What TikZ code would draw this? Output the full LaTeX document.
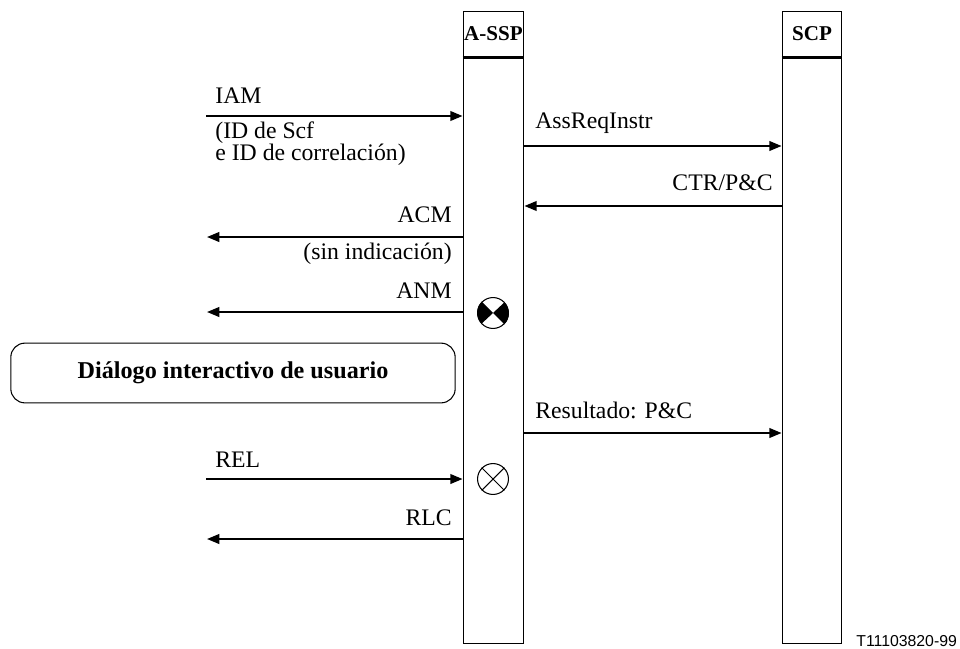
\documentclass[tikz,border=0pt]{standalone}
\usepackage{fontspec}
\setmainfont{Liberation Serif}
\newfontfamily\figsans{Liberation Sans}
\usetikzlibrary{arrows.meta}
\begin{document}
\begin{tikzpicture}[x=0.02cm,y=-0.02cm]
\tikzstyle{every node}+=[inner sep=0pt, font=\fontsize{13.5}{12.5}\selectfont]
\tikzstyle{msg}=[line width=1.1pt, -{Triangle[length=7pt,width=5.5pt]}]
\tikzstyle{bar}=[draw, line width=0.6pt, minimum height=360pt]
\tikzstyle{head}=[font=\fontsize{12}{12}\selectfont\bfseries]
\tikzstyle{sym}=[draw, line width=0.6pt, circle, minimum size=17.6pt]
\useasboundingbox (0,0) rectangle (960,649);
\node [bar, minimum width=34.6pt] (assp) at (493.5,327.5) {};
\node [bar, minimum width=34pt] (scp) at (812,327.5) {};
\draw [line width=1.2pt] ([yshift=-26.6pt]assp.north west) -- ([yshift=-26.6pt]assp.north east);
\draw [line width=1.2pt] ([yshift=-26.6pt]scp.north west) -- ([yshift=-26.6pt]scp.north east);
\node [head] (asspname) at (493.5,34) {A-SSP};
\node [head] (scpname) at (812,34) {SCP};
\coordinate (iam) at (206,116);
\coordinate (acm) at (207,237);
\coordinate (anm) at (207,312);
\coordinate (rel) at (206,479);
\coordinate (rlc) at (207,539);
\coordinate (ari) at (524,146);
\coordinate (ctr) at (524,206);
\coordinate (res) at (524,433);
\draw [msg] (iam) -- (iam -| assp.west);
\draw [msg] (acm -| assp.west) -- (acm);
\draw [msg] (anm -| assp.west) -- (anm);
\draw [msg] (rel) -- (rel -| assp.west);
\draw [msg] (rlc -| assp.west) -- (rlc);
\draw [msg] (ari -| assp.east) -- (ari -| scp.west);
\draw [msg] (ctr -| scp.west) -- (ctr -| assp.east);
\draw [msg] (res -| assp.east) -- (res -| scp.west);
\node [anchor=base west] (iamtxt) at (215,103) {IAM};
\node [anchor=north west, align=left] (iamarg) at (215,121) {(ID de Scf\\e ID de correlación)};
\node [anchor=base east] (acmtxt) at (452,222) {ACM};
\node [anchor=base east] (acmarg) at (452,259) {(sin indicación)};
\node [anchor=base east] (anmtxt) at (452,298) {ANM};
\node [anchor=base west] (reltxt) at (215,467) {REL};
\node [anchor=base east] (rlctxt) at (452,525) {RLC};
\node [anchor=base west] (aritxt) at (535,128) {AssReqInstr};
\node [anchor=base east] (ctrtxt) at (773,190) {CTR/P\&C};
\node [anchor=base west] (restxt) at (535,418) {Resultado: P\&C};
\node [draw, line width=0.6pt, rounded corners=8pt, minimum width=252.9pt, minimum height=34pt, font=\fontsize{13.75}{13}\selectfont\bfseries] (dialogo) at (233,373) {Diálogo interactivo de usuario};
\node [sym] (pc) at (493,313) {};
\fill (pc.center) -- (pc.135) arc[start angle=135, end angle=225, radius=8.8pt] -- cycle;
\fill (pc.center) -- (pc.-45) arc[start angle=-45, end angle=45, radius=8.8pt] -- cycle;
\node [sym] (fin) at (493,479) {};
\draw [line width=0.6pt] (fin.45) -- (fin.225) (fin.135) -- (fin.-45);
\node [anchor=base west, font=\fontsize{9}{9}\selectfont\figsans] (ref) at (856,646) {T11103820-99};
\end{tikzpicture}
\end{document}
